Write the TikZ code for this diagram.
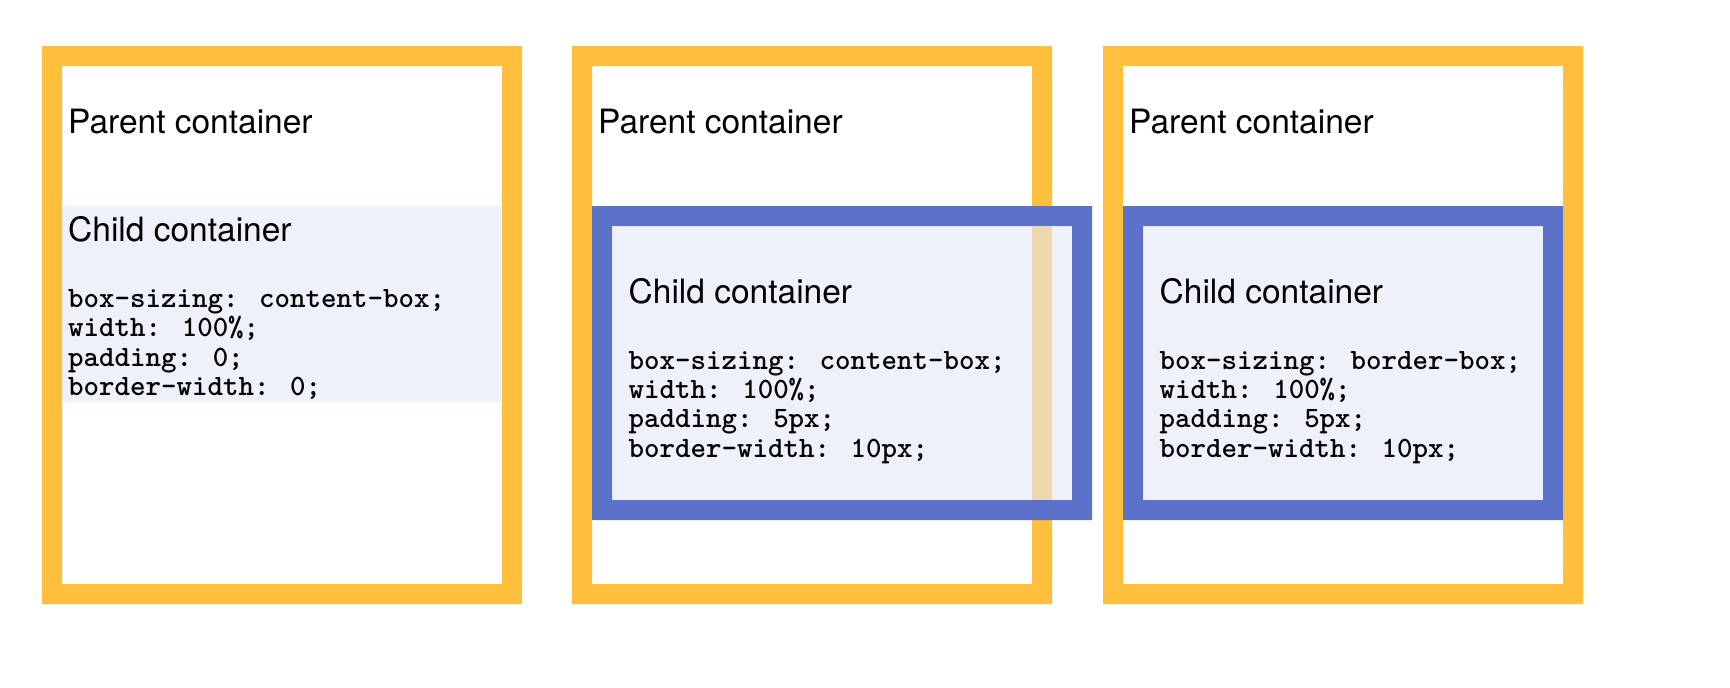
\documentclass[tikz,border=0pt]{standalone}
\usepackage{fontspec}
\newfontfamily\labelfont{TeX Gyre Heros}
\definecolor{frameorange}{RGB}{255,191,61}
\definecolor{frameblue}{RGB}{92,113,201}
\definecolor{childtint}{RGB}{228,232,248}
\tikzset{
  parentframe/.style={fill=frameorange, even odd rule},
  childframe/.style={fill=frameblue, even odd rule},
  childfill/.style={fill=childtint, fill opacity=0.62},
  titletext/.style={anchor=base west, inner sep=0pt, font=\labelfont\fontsize{33.5}{40}\selectfont},
  codetext/.style={anchor=base west, inner sep=0pt, font=\ttfamily\bfseries\fontsize{29.5}{30}\selectfont},
}
\begin{document}
\begin{tikzpicture}[x=1pt, y=-1pt]
\fill[white] (0,0) rectangle (1730,688);
% content-box, no padding, no border
\begin{scope}
\fill[parentframe] (42,46) rectangle (522,604) (62,66) rectangle (502,584);
\fill[childfill] (62,206) rectangle (502,402);
\node[titletext] (parentA) at (68,133) {Parent container};
\node[titletext] (childA) at (68,241) {Child container};
\foreach \txt [count=\i] in {box-sizing: content-box;, width: 100\%;, padding: 0;, border-width: 0;}
  \node[codetext] (codeA\i) at (68,{307.5+29.4*(\i-1)}) {\txt};
\end{scope}
% content-box with padding and border: overflows
\begin{scope}[xshift=530pt]
\fill[parentframe] (42,46) rectangle (522,604) (62,66) rectangle (502,584);
\fill[childframe] (62,206) rectangle (562,520) (82,226) rectangle (542,500);
\fill[childfill] (82,226) rectangle (542,500);
\node[titletext] (parentB) at (68,133) {Parent container};
\node[titletext] (childB) at (98.5,303) {Child container};
\foreach \txt [count=\i] in {box-sizing: content-box;, width: 100\%;, padding: 5px;, border-width: 10px;}
  \node[codetext] (codeB\i) at (98.5,{369+29.4*(\i-1)}) {\txt};
\end{scope}
% border-box with padding and border: fits
\begin{scope}[xshift=1061pt]
\fill[parentframe] (42,46) rectangle (522,604) (62,66) rectangle (502,584);
\fill[childframe] (62,206) rectangle (502,520) (82,226) rectangle (482,500);
\fill[childfill] (82,226) rectangle (482,500);
\node[titletext] (parentC) at (68,133) {Parent container};
\node[titletext] (childC) at (98.5,303) {Child container};
\foreach \txt [count=\i] in {box-sizing: border-box;, width: 100\%;, padding: 5px;, border-width: 10px;}
  \node[codetext] (codeC\i) at (98.5,{369+29.4*(\i-1)}) {\txt};
\end{scope}
\end{tikzpicture}
\end{document}
